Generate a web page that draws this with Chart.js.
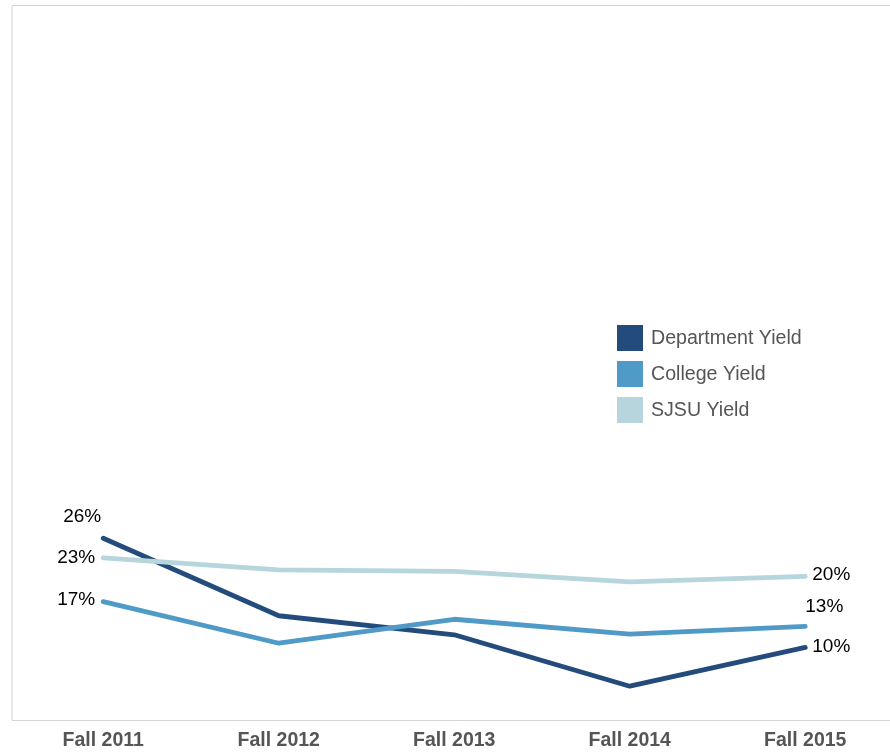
<!DOCTYPE html>
<html>
<head>
<meta charset="utf-8">
<script src="https://cdn.jsdelivr.net/npm/chart.js@4.4.0/dist/chart.umd.min.js"></script>
<style>
html,body{margin:0;padding:0;background:#fff;overflow:hidden;}
#wrap{position:relative;width:900px;height:754px;}
</style>
</head>
<body>
<div id="wrap"><canvas id="c"></canvas></div>
<script>
const categories = ['Fall 2011','Fall 2012','Fall 2013','Fall 2014','Fall 2015'];
const departmentYield = [25.8, 14.8, 12.1, 4.8, 10.3];
const collegeYield = [16.8, 10.9, 14.3, 12.2, 13.3];
const sjsuYield = [23.0, 21.3, 21.1, 19.6, 20.4];
const seriesNames = ['Department Yield','College Yield','SJSU Yield'];
const seriesColors = ['#234b7c','#4f9ac7','#b6d5dc'];

// label placement for first/last points: [dx, dy, align]
const firstLabelPos = [[-21,-21,'center'],[-8,-2,'right'],[-8,0,'right']];
const lastLabelPos  = [[7,-1,'left'],[0,-20,'left'],[7,-2,'left']];

const font = '"Liberation Sans", Arial, sans-serif';

const borderPlugin = {
  id:'borderBox',
  beforeDraw(chart){
    const {ctx, chartArea:a} = chart;
    ctx.save();
    ctx.strokeStyle = '#d4d4d4';
    ctx.lineWidth = 1;
    ctx.beginPath();
    ctx.moveTo(a.right+20, a.top+0.5);
    ctx.lineTo(a.left-3.5, a.top+0.5);
    ctx.lineTo(a.left-3.5, a.bottom+0.5);
    ctx.lineTo(a.right+20, a.bottom+0.5);
    ctx.stroke();
    ctx.restore();
  }
};

const labelPlugin = {
  id:'endLabels',
  afterDatasetsDraw(chart){
    const ctx = chart.ctx;
    ctx.save();
    ctx.font = '19px ' + font;
    ctx.fillStyle = '#000';
    ctx.textBaseline = 'middle';
    chart.data.datasets.forEach((ds, di) => {
      const idx = ds.seriesIndex;
      const meta = chart.getDatasetMeta(di);
      const n = ds.data.length;
      [[0, firstLabelPos[idx]], [n-1, lastLabelPos[idx]]].forEach(([i,p]) => {
        const pt = meta.data[i];
        ctx.textAlign = p[2];
        ctx.fillText(Math.round(ds.data[i]) + '%', pt.x + p[0], pt.y + p[1]);
      });
    });
    ctx.restore();
  }
};

const legendPlugin = {
  id:'customLegend',
  afterDraw(chart){
    const ctx = chart.ctx;
    ctx.save();
    const x0 = 617, y0 = 325, size = 26, gap = 36;
    ctx.font = '19.6px ' + font;
    ctx.textBaseline = 'middle';
    ctx.textAlign = 'left';
    seriesNames.forEach((name, i) => {
      ctx.fillStyle = seriesColors[i];
      ctx.fillRect(x0, y0 + i*gap, size, size);
      ctx.fillStyle = '#555555';
      ctx.fillText(name, x0 + size + 8, y0 + i*gap + size/2 + 1);
    });
    ctx.restore();
  }
};

const seriesData = [departmentYield, collegeYield, sjsuYield];
// draw order: SJSU first, College, Department on top
const datasets = [2,1,0].map(i => ({
  label: seriesNames[i],
  seriesIndex: i,
  data: seriesData[i],
  borderColor: seriesColors[i],
  backgroundColor: seriesColors[i],
  borderWidth: 4.8,
  pointRadius: 0,
  pointHoverRadius: 0,
  tension: 0,
  borderCapStyle: 'round',
  borderJoinStyle: 'round',
  fill: false
}));

new Chart(document.getElementById('c'), {
  type: 'line',
  data: { labels: categories, datasets },
  options: {
    responsive: true,
    maintainAspectRatio: false,
    animation: false,
    layout: { padding: { left: 15.5, right: 7, top: 5, bottom: 0 } },
    plugins: { legend: { display: false }, tooltip: { enabled: false } },
    scales: {
      x: {
        offset: true,
        grid: { display: false, drawTicks: false },
        border: { display: false },
        ticks: { color: '#555555', font: { family: font, size: 19.5, weight: 'bold' }, padding: 9, maxRotation: 0 },
        afterFit(s){ s.height = 34; }
      },
      y: {
        display: false,
        min: 0,
        max: 101.5
      }
    }
  },
  plugins: [borderPlugin, labelPlugin, legendPlugin]
});
</script>
</body>
</html>
